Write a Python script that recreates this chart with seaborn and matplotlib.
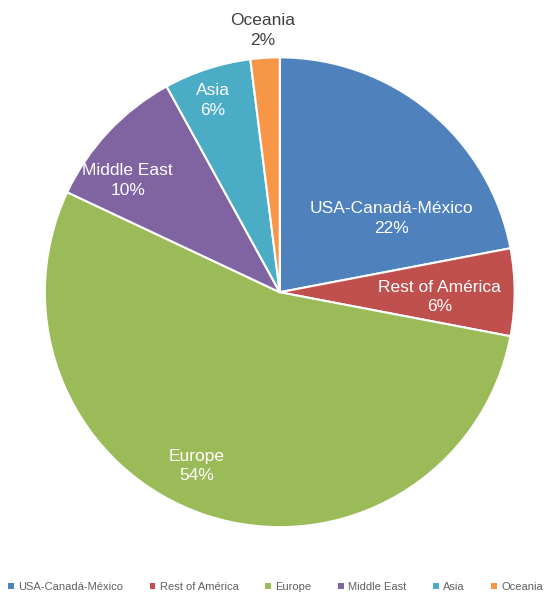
import matplotlib
matplotlib.use("Agg")
import matplotlib.pyplot as plt
import seaborn as sns
from matplotlib.patches import Patch

regions = ["USA-Canadá-México", "Rest of América", "Europe", "Middle East", "Asia", "Oceania"]
shares = [22, 6, 54, 10, 6, 2]
hex_colors = ["#4F81BD", "#C0504D", "#9BBB59", "#8064A2", "#4BACC6", "#F79646"]

# label spots in pie units (radius 1)
label_pos = [(0.477, 0.315), (0.68, -0.02), (-0.355, -0.74),
             (-0.647, 0.477), (-0.285, 0.817), (-0.072, 1.115)]
label_col = ["white", "white", "white", "white", "white", "#404040"]

sns.set_style("white")
plt.rcParams["font.family"] = ["Liberation Sans", "DejaVu Sans"]
palette = sns.color_palette(hex_colors)

fig = plt.figure(figsize=(5.48, 5.94), dpi=100)
ax = fig.add_axes([0.039, 0.073, 0.943, 0.870])
wedges, _ = ax.pie(shares, colors=palette, startangle=90, counterclock=False,
                   wedgeprops=dict(edgecolor="white", linewidth=1.5))
ax.set_xlim(-1.1, 1.1)
ax.set_ylim(-1.1, 1.1)
ax.set_aspect("equal")
ax.axis("off")

for name, val, (x, y), c in zip(regions, shares, label_pos, label_col):
    ax.text(x, y, f"{name}\n{val}%", ha="center", va="center", color=c,
            fontsize=12.5, linespacing=1.4)

handles = [Patch(facecolor=col, edgecolor="none") for col in palette]
fig.legend(handles, regions, loc="center left", bbox_to_anchor=(0.015, 0.012), ncol=6,
           frameon=False, fontsize=8, handlelength=0.5, handleheight=0.5,
           handletextpad=0.4, columnspacing=2.4, labelcolor="#606060",
           borderaxespad=0, borderpad=0)

fig.savefig("out.png", dpi=100)
